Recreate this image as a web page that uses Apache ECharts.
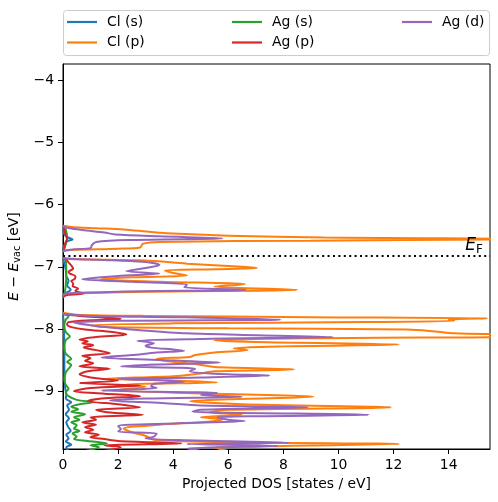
<!DOCTYPE html>
<html>
<head>
<meta charset="utf-8">
<script src="https://cdn.jsdelivr.net/npm/echarts@6/dist/echarts.min.js"></script>
<style>html,body{margin:0;padding:0;background:#fff;}#chart{width:498px;height:502px;}</style>
</head>
<body>
<div id="chart"></div>
<script>
// ---- data: [energy (eV), projected DOS (states/eV)]; null = break between bands ----
const seriesNames = ['Cl (s)', 'Cl (p)', 'Ag (s)', 'Ag (p)', 'Ag (d)'];
const seriesColors = ['#1f77b4', '#ff7f0e', '#2ca02c', '#d62728', '#9467bd'];
const yTickLabels = [-9, -8, -7, -6, -5, -4];
const xTickLabels = [0, 2, 4, 6, 8, 10, 12, 14];
const fermiLevel = -6.82;

const clS = [
  [-6.40,0],[-6.48,0.05],[-6.53,0.2],[-6.56,0.35],[-6.59,0.15],[-6.65,0.05],[-6.74,0], null,
  [-6.86,0],[-6.95,0.05],[-7.05,0.1],[-7.15,0.12],[-7.22,0.2],[-7.30,0.15],[-7.37,0.28],[-7.42,0.12],[-7.46,0], null,
  [-7.78,0],[-7.90,0.03],[-8.10,0.04],[-8.40,0.05],[-8.70,0.05],[-8.95,0.08],[-9.05,0.12],[-9.12,0.1],[-9.18,0.3],[-9.23,0.15],
  [-9.30,0.22],[-9.37,0.1],[-9.44,0.22],[-9.50,0.12],[-9.57,0.18],[-9.64,0.28],[-9.70,0.12],[-9.76,0.2],[-9.81,0.1],[-9.86,0.3],[-9.90,0.12],[-9.96,0.2]
];

const clP = [
  [-6.34,0],[-6.36,0.3],[-6.38,1.2],[-6.40,2.2],[-6.44,3.2],[-6.47,4.2],[-6.50,6.0],[-6.53,9.5],[-6.555,17],[-6.58,9],
  [-6.60,3.5],[-6.63,2.9],[-6.69,2.8],[-6.71,2.0],[-6.73,0.3],[-6.75,0], null,
  [-6.86,0],[-6.88,0.6],[-6.90,3.0],[-6.95,4.5],[-7.00,6.5],[-7.02,7.05],[-7.04,5.5],[-7.06,3.7],[-7.10,4.0],[-7.14,4.5],
  [-7.17,2.5],[-7.20,1.35],[-7.24,3.5],[-7.28,6.6],[-7.32,5.5],[-7.37,8.5],[-7.40,3],[-7.43,0.3],[-7.46,0], null,
  [-7.74,0],[-7.77,0.5],[-7.79,3],[-7.81,9],[-7.83,15.4],[-7.85,14],[-7.87,14.2],[-7.89,11],[-7.91,4],[-7.94,1.0],
  [-7.97,1.5],[-7.99,6],[-8.01,12.5],[-8.04,13.5],[-8.07,14.2],[-8.10,17],[-8.12,17],[-8.15,9],[-8.18,5.5],[-8.21,7],
  [-8.25,12.2],[-8.28,8],[-8.31,6.2],[-8.34,6.7],[-8.38,5.5],[-8.42,4.8],[-8.45,4.6],[-8.48,3.4],[-8.52,3.8],[-8.57,4.9],
  [-8.61,5.5],[-8.65,8.4],[-8.68,5.5],[-8.72,4.9],[-8.76,4.0],[-8.80,1.6],[-8.83,4.0],[-8.86,5.6],[-8.89,2.3],[-8.93,3.0],
  [-8.98,2.0],[-9.03,4.5],[-9.09,9.1],[-9.13,6],[-9.16,4.6],[-9.21,6.5],[-9.26,11.9],[-9.30,6],[-9.34,5.3],[-9.38,6.5],
  [-9.42,5.0],[-9.45,5.8],[-9.49,5.3],[-9.54,3.5],[-9.60,2.2],[-9.66,2.5],[-9.72,3.0],[-9.78,3.3],[-9.82,6],[-9.85,12.2],
  [-9.88,8],[-9.91,5.5],[-9.96,6]
];

const agS = [
  [-6.35,0],[-6.40,0.1],[-6.55,0.15],[-6.70,0.05],[-6.75,0], null,
  [-6.85,0],[-6.90,0.1],[-7.10,0.12],[-7.30,0.1],[-7.45,0.05],[-7.50,0], null,
  [-7.76,0],[-7.80,0.2],[-7.85,0.1],[-7.95,0.05],[-8.05,0.1],[-8.12,0.25],[-8.18,0.1],[-8.30,0.05],[-8.40,0.1],[-8.48,0.3],
  [-8.53,0.15],[-8.58,0.3],[-8.64,0.2],[-8.70,0.1],[-8.80,0.05],[-8.90,0.1],[-8.96,0.2],[-9.02,0.1],[-9.08,0.2],[-9.14,0.5],
  [-9.18,1.1],[-9.21,0.6],[-9.25,0.3],[-9.29,0.55],[-9.33,0.3],[-9.37,0.8],[-9.42,0.4],[-9.46,0.6],[-9.50,0.3],[-9.55,0.5],
  [-9.60,0.4],[-9.64,0.6],[-9.68,0.35],[-9.73,0.5],[-9.77,0.4],[-9.80,0.9],[-9.84,1.6],[-9.87,1.0],[-9.90,1.3],[-9.96,0.8]
];

const agP = [
  [-6.35,0],[-6.40,0.05],[-6.50,0.1],[-6.55,0.15],[-6.60,0.1],[-6.70,0.05],[-6.75,0], null,
  [-6.85,0],[-6.88,0.1],[-6.93,0.2],[-6.98,0.3],[-7.03,0.37],[-7.08,0.2],[-7.11,0.25],[-7.15,0.45],[-7.19,0.44],[-7.23,0.3],
  [-7.27,0.37],[-7.31,0.35],[-7.35,0.55],[-7.39,0.45],[-7.43,0.76],[-7.45,0.2],[-7.48,0], null,
  [-7.76,0],[-7.79,0.6],[-7.82,1.6],[-7.84,2.1],[-7.86,1.0],[-7.89,0.2],[-7.93,0.15],[-7.97,0.3],[-8.01,0.8],[-8.05,1.8],
  [-8.09,2.3],[-8.13,1.2],[-8.17,0.6],[-8.20,0.9],[-8.23,0.7],[-8.26,1.1],[-8.30,0.75],[-8.34,1.2],[-8.39,1.7],[-8.43,0.7],
  [-8.47,1.0],[-8.51,0.8],[-8.55,1.1],[-8.60,0.6],[-8.64,1.7],[-8.68,0.9],[-8.73,0.6],[-8.78,1.0],[-8.83,2.0],[-8.87,0.6],
  [-8.91,2.8],[-8.95,1.0],[-9.00,0.4],[-9.04,1.5],[-9.08,2.8],[-9.12,1.4],[-9.16,0.9],[-9.21,2.0],[-9.26,2.8],[-9.30,1.2],
  [-9.34,1.6],[-9.38,2.9],[-9.42,1.0],[-9.46,1.2],[-9.50,0.7],[-9.54,1.2],[-9.58,0.8],[-9.62,1.1],[-9.66,0.8],[-9.70,1.3],
  [-9.74,1.0],[-9.77,1.5],[-9.80,2.0],[-9.84,4.3],[-9.87,1.5],[-9.90,2.1],[-9.96,1.5]
];

const agD = [
  [-6.35,0],[-6.37,0.1],[-6.41,0.7],[-6.45,1.5],[-6.48,1.9],[-6.51,3.5],[-6.545,5.8],[-6.57,2.5],[-6.60,1.2],[-6.65,1.05],
  [-6.70,1.0],[-6.72,0.4],[-6.74,0.05],[-6.76,0], null,
  [-6.85,0],[-6.87,0.1],[-6.89,1.5],[-6.92,2.9],[-6.97,3.5],[-7.02,3.0],[-7.07,2.3],[-7.11,3.5],[-7.15,2.0],[-7.20,0.7],
  [-7.24,2.5],[-7.29,4.5],[-7.33,4.4],[-7.37,6.65],[-7.40,2.0],[-7.43,0.1],[-7.46,0], null,
  [-7.76,0],[-7.79,1],[-7.81,4],[-7.85,7.9],[-7.87,2],[-7.90,0.4],[-7.94,1.0],[-7.98,1.8],[-8.02,2.8],[-8.07,4.5],
  [-8.10,7],[-8.13,9.8],[-8.16,5],[-8.19,2.7],[-8.23,3.3],[-8.27,3.0],[-8.30,3.2],[-8.33,4.0],[-8.35,4.4],[-8.38,3.4],
  [-8.42,2.5],[-8.46,1.4],[-8.50,3.5],[-8.54,5.7],[-8.57,3.5],[-8.60,2.1],[-8.64,4.8],[-8.68,4.6],[-8.72,5.5],[-8.75,7.5],
  [-8.78,5],[-8.80,2.0],[-8.85,4.4],[-8.88,3.3],[-8.92,3.2],[-8.95,3.4],[-8.99,1.4],[-9.03,5.6],[-9.06,5.0],[-9.09,6.5],
  [-9.12,3],[-9.15,1.7],[-9.19,3.6],[-9.23,5],[-9.26,8.9],[-9.30,5],[-9.33,4.7],[-9.38,11.1],[-9.42,5.6],[-9.46,6.0],
  [-9.48,6.6],[-9.52,4],[-9.56,2.0],[-9.61,2.1],[-9.65,2.0],[-9.68,3.4],[-9.73,3.3],[-9.76,3.0],[-9.79,4.5],[-9.83,8.2],
  [-9.85,4.5],[-9.88,7.8],[-9.92,4.5],[-9.96,5]
];

const allData = [clS, clP, agS, agP, agD];

const FONT = 'DejaVu Sans';
const minus = v => String(v).replace('-', '\u2212');

const series = allData.map((arr, i) => ({
  name: seriesNames[i],
  type: 'line',
  data: arr.map(p => p ? [p[1], p[0]] : ['-', '-']),
  showSymbol: false,
  symbol: 'none',
  smooth: 0.3,
  connectNulls: false,
  clip: true,
  lineStyle: { color: seriesColors[i], width: 2 },
  itemStyle: { color: seriesColors[i] },
  animation: false
}));

series[4].markLine = {
  silent: true,
  symbol: ['none', 'none'],
  animation: false,
  lineStyle: { color: '#000', width: 2, type: [2, 3.4] },
  label: {
    show: true,
    position: 'insideEndTop',
    distance: [7, 0],
    formatter: '{e|E}{f|F}',
    rich: {
      e: { fontFamily: FONT, fontStyle: 'italic', fontSize: 17, color: '#000' },
      f: { fontFamily: FONT, fontSize: 12, color: '#000', padding: [8, 0, 0, 0] }
    }
  },
  data: [{ yAxis: fermiLevel }]
};

const legendCommon = {
  orient: 'vertical',
  top: 15,
  padding: 0,
  itemWidth: 30,
  itemHeight: 2.2,
  itemGap: 6.5,
  icon: 'rect',
  textStyle: { fontFamily: FONT, fontSize: 13.9, color: '#000', padding: [0, 0, 0, 5] },
  selectedMode: false
};

const chart = echarts.init(document.getElementById('chart'), null, { renderer: 'canvas' });
chart.setOption({
  animation: false,
  backgroundColor: '#fff',
  grid: { left: 63, right: 8, top: 64, bottom: 53, containLabel: false, outerBoundsMode: 'none',
          show: true, borderColor: '#000', borderWidth: 1, backgroundColor: 'transparent' },
  legend: [
    Object.assign({}, legendCommon, { left: 67, data: [seriesNames[0], seriesNames[1]] }),
    Object.assign({}, legendCommon, { left: 232, data: [seriesNames[2], seriesNames[3]] }),
    Object.assign({}, legendCommon, { left: 402, data: [seriesNames[4]] })
  ],
  graphic: [{
    type: 'rect', z: 0, silent: true,
    shape: { x: 63.5, y: 10.5, width: 426, height: 45, r: 3 },
    style: { fill: '#fff', stroke: '#cccccc', lineWidth: 1 }
  }],
  xAxis: {
    type: 'value', min: 0, max: 15.5,
    name: 'Projected DOS [states / eV]',
    nameLocation: 'middle', nameGap: 28,
    nameTextStyle: { fontFamily: FONT, fontSize: 13.9, color: '#000' },
    axisLine: { show: true, onZero: false, lineStyle: { color: '#000', width: 1 } },
    axisTick: { show: true, length: 5, lineStyle: { color: '#000', width: 1 }, customValues: xTickLabels },
    axisLabel: { fontFamily: FONT, fontSize: 13.9, color: '#000', margin: 9, customValues: xTickLabels, formatter: minus },
    splitLine: { show: false }
  },
  yAxis: {
    type: 'value', min: -9.93, max: -3.74,
    name: '{i|E} \u2212 {i|E}{s|vac} [eV]',
    nameLocation: 'middle', nameGap: 33, nameRotate: 90,
    nameTextStyle: {
      fontFamily: FONT, fontSize: 13.9, color: '#000',
      rich: {
        i: { fontFamily: FONT, fontStyle: 'italic', fontSize: 13.9, color: '#000' },
        s: { fontFamily: FONT, fontSize: 9.7, color: '#000', padding: [6, 0, 0, 0] }
      }
    },
    axisLine: { show: true, onZero: false, lineStyle: { color: '#000', width: 1 } },
    axisTick: { show: true, length: 5, lineStyle: { color: '#000', width: 1 }, customValues: yTickLabels },
    axisLabel: { fontFamily: FONT, fontSize: 13.9, color: '#000', margin: 9, customValues: yTickLabels, formatter: minus },
    splitLine: { show: false }
  },
  series: series
});
</script>
</body>
</html>
